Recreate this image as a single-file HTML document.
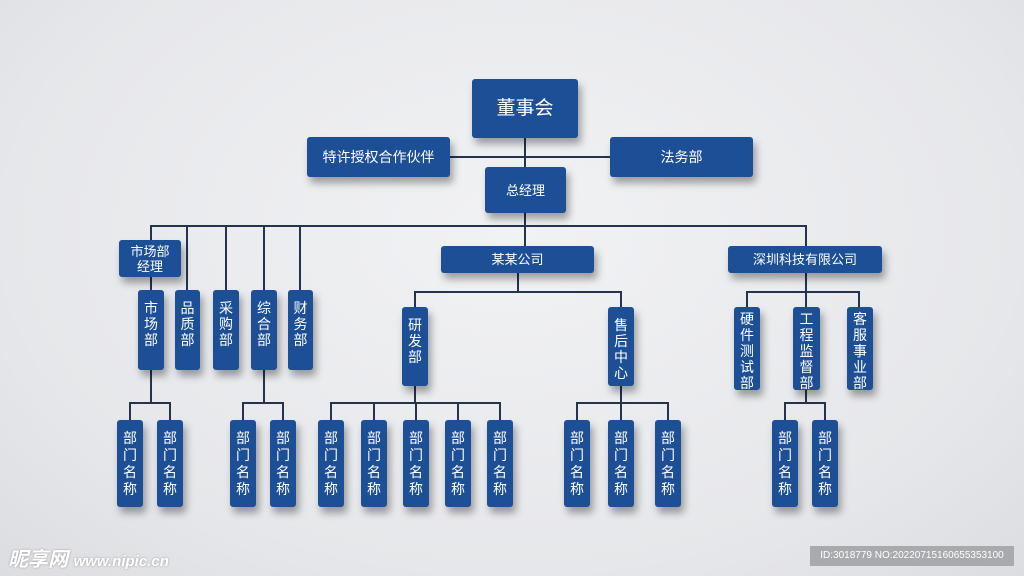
<!DOCTYPE html>
<html><head><meta charset="utf-8"><style>
body{margin:0;width:1024px;height:576px;overflow:hidden;background:radial-gradient(ellipse at 50% 40%,#f1f2f4 0%,#e6e7ea 70%,#dcdde1 100%);font-family:"Liberation Sans","Noto Sans CJK SC",sans-serif;position:relative}
.b{position:absolute;background:#1d4f96;color:#fff;border-radius:3px;box-shadow:3px 6px 8px rgba(0,0,0,.35);display:flex;align-items:center;justify-content:center;text-align:center;font-size:13px;line-height:15px}
.v{align-items:flex-start;padding-top:10px;box-sizing:border-box;font-size:14px;line-height:16px}
.d{align-items:center;padding-top:0;line-height:17px}
.l{position:absolute;background:#24344f}
</style></head><body>
<div class="l" style="left:524px;top:138px;width:2px;height:30px"></div>
<div class="l" style="left:450px;top:156px;width:160px;height:2px"></div>
<div class="l" style="left:524px;top:213px;width:2px;height:34px"></div>
<div class="l" style="left:150px;top:225px;width:657px;height:2px"></div>
<div class="l" style="left:150px;top:225px;width:2px;height:66px"></div>
<div class="l" style="left:186px;top:225px;width:2px;height:66px"></div>
<div class="l" style="left:225px;top:225px;width:2px;height:66px"></div>
<div class="l" style="left:263px;top:225px;width:2px;height:66px"></div>
<div class="l" style="left:299px;top:225px;width:2px;height:66px"></div>
<div class="l" style="left:805px;top:225px;width:2px;height:22px"></div>
<div class="l" style="left:517px;top:273px;width:2px;height:20px"></div>
<div class="l" style="left:414px;top:291px;width:208px;height:2px"></div>
<div class="l" style="left:414px;top:291px;width:2px;height:17px"></div>
<div class="l" style="left:620px;top:291px;width:2px;height:17px"></div>
<div class="l" style="left:805px;top:273px;width:2px;height:35px"></div>
<div class="l" style="left:746px;top:291px;width:114px;height:2px"></div>
<div class="l" style="left:746px;top:291px;width:2px;height:17px"></div>
<div class="l" style="left:858px;top:291px;width:2px;height:17px"></div>
<div class="l" style="left:150px;top:370px;width:2px;height:33px"></div>
<div class="l" style="left:129px;top:402px;width:42px;height:2px"></div>
<div class="l" style="left:129px;top:402px;width:2px;height:19px"></div>
<div class="l" style="left:169px;top:402px;width:2px;height:19px"></div>
<div class="l" style="left:263px;top:370px;width:2px;height:33px"></div>
<div class="l" style="left:242px;top:402px;width:42px;height:2px"></div>
<div class="l" style="left:242px;top:402px;width:2px;height:19px"></div>
<div class="l" style="left:282px;top:402px;width:2px;height:19px"></div>
<div class="l" style="left:414px;top:386px;width:2px;height:17px"></div>
<div class="l" style="left:330px;top:402px;width:171px;height:2px"></div>
<div class="l" style="left:330px;top:402px;width:2px;height:19px"></div>
<div class="l" style="left:373px;top:402px;width:2px;height:19px"></div>
<div class="l" style="left:415px;top:402px;width:2px;height:19px"></div>
<div class="l" style="left:457px;top:402px;width:2px;height:19px"></div>
<div class="l" style="left:499px;top:402px;width:2px;height:19px"></div>
<div class="l" style="left:620px;top:386px;width:2px;height:35px"></div>
<div class="l" style="left:576px;top:402px;width:93px;height:2px"></div>
<div class="l" style="left:576px;top:402px;width:2px;height:19px"></div>
<div class="l" style="left:667px;top:402px;width:2px;height:19px"></div>
<div class="l" style="left:805px;top:390px;width:2px;height:13px"></div>
<div class="l" style="left:784px;top:402px;width:42px;height:2px"></div>
<div class="l" style="left:784px;top:402px;width:2px;height:19px"></div>
<div class="l" style="left:824px;top:402px;width:2px;height:19px"></div>
<div class="b" style="left:472px;top:79px;width:106px;height:59px;font-size:19px">董事会</div>
<div class="b" style="left:307px;top:137px;width:143px;height:40px;font-size:14px">特许授权合作伙伴</div>
<div class="b" style="left:610px;top:137px;width:143px;height:40px;font-size:14px">法务部</div>
<div class="b" style="left:485px;top:167px;width:81px;height:46px">总经理</div>
<div class="b" style="left:119px;top:240px;width:62px;height:37px;font-size:13px">市场部<br>经理</div>
<div class="b" style="left:441px;top:246px;width:153px;height:27px">某某公司</div>
<div class="b" style="left:728px;top:246px;width:154px;height:27px">深圳科技有限公司</div>
<div class="b v" style="left:138px;top:290px;width:26px;height:80px">市<br>场<br>部</div>
<div class="b v" style="left:175px;top:290px;width:25px;height:80px">品<br>质<br>部</div>
<div class="b v" style="left:213px;top:290px;width:26px;height:80px">采<br>购<br>部</div>
<div class="b v" style="left:251px;top:290px;width:26px;height:80px">综<br>合<br>部</div>
<div class="b v" style="left:288px;top:290px;width:25px;height:80px">财<br>务<br>部</div>
<div class="b v" style="left:402px;top:307px;width:26px;height:79px">研<br>发<br>部</div>
<div class="b v" style="left:608px;top:307px;width:26px;height:79px">售<br>后<br>中<br>心</div>
<div class="b v" style="left:734px;top:307px;width:26px;height:83px;padding-top:4px">硬<br>件<br>测<br>试<br>部</div>
<div class="b v" style="left:793px;top:307px;width:27px;height:83px;padding-top:4px">工<br>程<br>监<br>督<br>部</div>
<div class="b v" style="left:847px;top:307px;width:26px;height:83px;padding-top:4px">客<br>服<br>事<br>业<br>部</div>
<div class="b v d" style="left:117px;top:420px;width:26px;height:87px">部<br>门<br>名<br>称</div>
<div class="b v d" style="left:157px;top:420px;width:26px;height:87px">部<br>门<br>名<br>称</div>
<div class="b v d" style="left:230px;top:420px;width:26px;height:87px">部<br>门<br>名<br>称</div>
<div class="b v d" style="left:270px;top:420px;width:26px;height:87px">部<br>门<br>名<br>称</div>
<div class="b v d" style="left:318px;top:420px;width:26px;height:87px">部<br>门<br>名<br>称</div>
<div class="b v d" style="left:361px;top:420px;width:26px;height:87px">部<br>门<br>名<br>称</div>
<div class="b v d" style="left:403px;top:420px;width:26px;height:87px">部<br>门<br>名<br>称</div>
<div class="b v d" style="left:445px;top:420px;width:26px;height:87px">部<br>门<br>名<br>称</div>
<div class="b v d" style="left:487px;top:420px;width:26px;height:87px">部<br>门<br>名<br>称</div>
<div class="b v d" style="left:564px;top:420px;width:26px;height:87px">部<br>门<br>名<br>称</div>
<div class="b v d" style="left:608px;top:420px;width:26px;height:87px">部<br>门<br>名<br>称</div>
<div class="b v d" style="left:655px;top:420px;width:26px;height:87px">部<br>门<br>名<br>称</div>
<div class="b v d" style="left:772px;top:420px;width:26px;height:87px">部<br>门<br>名<br>称</div>
<div class="b v d" style="left:812px;top:420px;width:26px;height:87px">部<br>门<br>名<br>称</div>
<div style="position:absolute;left:8px;top:543px;font-size:20px;font-weight:bold;color:#fff;text-shadow:0 0 2px #999;font-style:italic">昵享网 <span style="font-size:15px">www.nipic.cn</span></div>
<div style="position:absolute;left:810px;top:546px;width:204px;height:20px;background:#a9aaad;color:#fff;font-size:10px;line-height:20px;text-align:center">ID:3018779 NO:20220715160655353100</div>
</body></html>
